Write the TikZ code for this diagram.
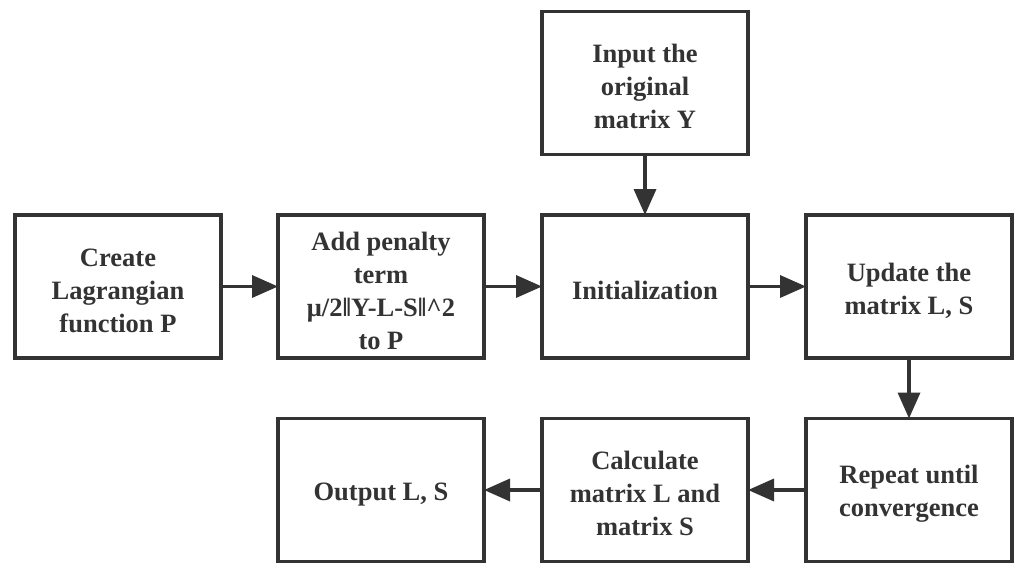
\documentclass[tikz,border=0pt]{standalone}
\usepackage{fontspec}
\setmainfont{Liberation Serif}
\usetikzlibrary{arrows.meta}
\definecolor{ink}{HTML}{333333}
\tikzset{
  stepbox/.style={draw=ink, line width=3.5pt, minimum width=206pt, minimum height=143pt,
    inner sep=0pt, outer sep=0pt},
  steptext/.style={align=center, text=ink, inner sep=0pt,
    font=\fontsize{26.5pt}{33pt}\selectfont\bfseries},
  conn/.style={draw=ink, line width=3.5pt, -{Triangle[length=26pt, width=22pt]}}
}
\begin{document}
\begin{tikzpicture}[x=1pt, y=-1pt]
\useasboundingbox (0,0) rectangle (1014,563);
\node[stepbox] (input) at (645,83) {};
\node[stepbox] (create) at (118,286.5) {};
\node[stepbox] (penalty) at (381,286.5) {};
\node[stepbox] (init) at (645,286.5) {};
\node[stepbox] (update) at (909,286.5) {};
\node[stepbox] (repeat) at (909,490) {};
\node[stepbox] (calc) at (645,490) {};
\node[stepbox] (output) at (381,490) {};
\node[steptext] (inputT) at ([yshift=-3pt]input.center) {Input the\\original\\matrix Y};
\node[steptext] (createT) at ([yshift=-4pt]create.center) {Create\\Lagrangian\\function P};
\node[steptext] (penaltyT) at ([yshift=-4pt]penalty.center) {Add penalty\\term\\μ/2‖Y-L-S‖\^{}2\\to P};
\node[steptext] (initT) at ([yshift=-4pt]init.center) {Initialization};
\node[steptext] (updateT) at ([yshift=-4pt]update.center) {Update the\\matrix L, S};
\node[steptext] (repeatT) at ([yshift=-4pt]repeat.center) {Repeat until\\convergence};
\node[steptext] (calcT) at ([yshift=-3pt]calc.center) {Calculate\\matrix L and\\matrix S};
\node[steptext] (outputT) at ([yshift=-5pt]output.center) {Output L, S};
\draw[conn] (input) -- (init);
\draw[conn] (create) -- (penalty);
\draw[conn] (penalty) -- (init);
\draw[conn] (init) -- (update);
\draw[conn] (update) -- (repeat);
\draw[conn] (repeat) -- (calc);
\draw[conn] (calc) -- (output);
\end{tikzpicture}
\end{document}
